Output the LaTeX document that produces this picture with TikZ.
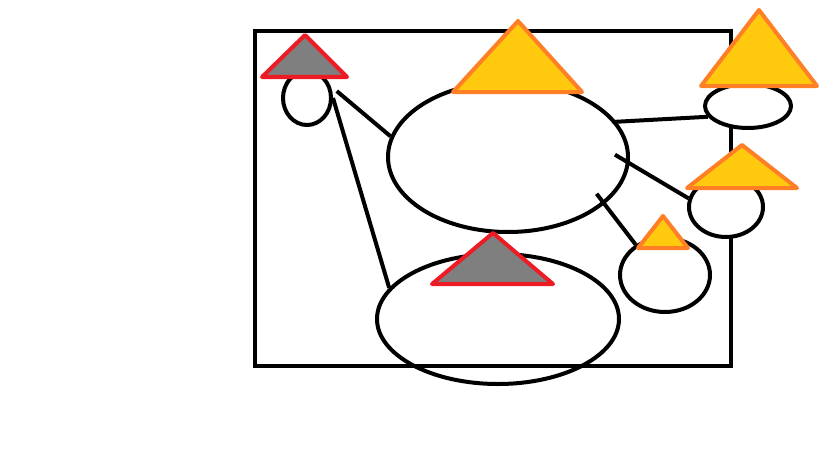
\documentclass[tikz,border=0pt]{standalone}
\usetikzlibrary{shapes.geometric}
\definecolor{capgray}{HTML}{7F7F7F}
\definecolor{capred}{HTML}{ED1C24}
\definecolor{capyellow}{HTML}{FFC90E}
\definecolor{caporange}{HTML}{FF7F27}
\begin{document}
\begin{tikzpicture}[x=1pt,y=-1pt,line width=4pt,line join=round]
  \tikzstyle{blob}=[ellipse,draw=black,fill=white,inner sep=0pt]
  \tikzstyle{graycap}=[fill=capgray,draw=capred]
  \tikzstyle{goldcap}=[fill=capyellow,draw=caporange]
  \useasboundingbox (0,0) rectangle (819,460);

  \draw[line join=miter] (255,31) rectangle (731,365.5);

  \node[blob,minimum width=48pt,minimum height=54pt]   (tl) at (307,98)  {};
  \node[blob,minimum width=240pt,minimum height=150pt] (c)  at (508,157) {};
  \node[blob,fill=none,minimum width=242pt,minimum height=130pt] (b) at (498,319) {};
  \node[blob,minimum width=86pt,minimum height=44pt]   (tr) at (748,106) {};
  \node[blob,minimum width=74pt,minimum height=60pt]   (mr) at (726,207) {};
  \node[blob,minimum width=90pt,minimum height=74pt]   (sm) at (665,275) {};

  \draw[shorten <=8pt] (tl.27) -- (c.170);
  \draw (tl.0) -- (b.164);
  \draw[shorten <=-4pt] (c.18) -- (tr.195);
  \draw[shorten <=-17pt] (c.-3) -- (mr.167);
  \draw[shorten <=-13pt] (c.-26) -- (sm.134);

  % hats
  \filldraw[graycap] (305,35) -- (262,77) -- (347,77) -- cycle;
  \filldraw[goldcap] (518,21) -- (453,92) -- (582,92) -- cycle;
  \filldraw[goldcap] (759,10) -- (701,86) -- (817,86) -- cycle;
  \filldraw[goldcap] (742,145) -- (687,188) -- (797,188) -- cycle;
  \filldraw[goldcap] (663,216) -- (638,248) -- (688,248) -- cycle;
  \filldraw[graycap] (493,233) -- (432,284) -- (553,284) -- cycle;
\end{tikzpicture}
\end{document}
